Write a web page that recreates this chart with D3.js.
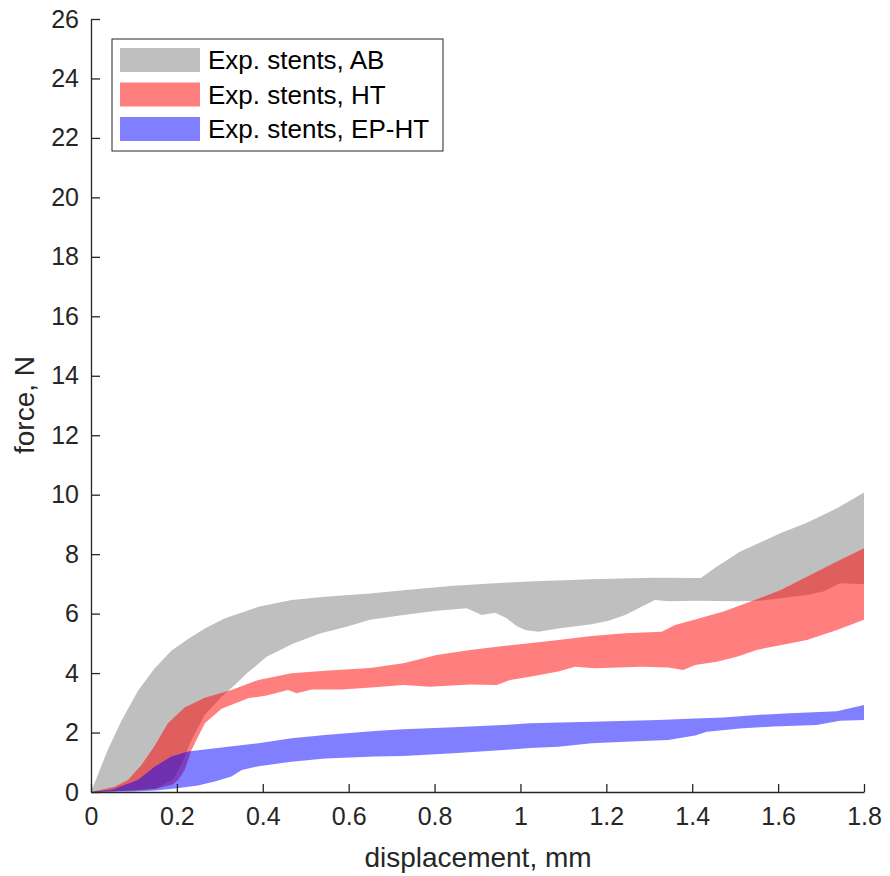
<!DOCTYPE html>
<html>
<head>
<meta charset="utf-8">
<script src="https://cdn.jsdelivr.net/npm/d3@7"></script>
<style>
  body { margin: 0; background: #fff; }
  svg { font-family: "Liberation Sans", Arial, sans-serif; }
</style>
</head>
<body>
<svg width="890" height="876"></svg>
<script>
// band edges (displacement in mm, force in N)
const abUpperX = [0, 0.04, 0.071, 0.109, 0.148, 0.187, 0.226, 0.265, 0.312, 0.39, 0.467, 0.545, 0.65, 0.727, 0.844, 0.96, 1.02, 1.166, 1.306, 1.42, 1.457, 1.511, 1.605, 1.667, 1.737, 1.8];
const abUpperF = [0, 1.45, 2.4, 3.4, 4.15, 4.75, 5.15, 5.5, 5.84, 6.23, 6.46, 6.57, 6.68, 6.79, 6.94, 7.04, 7.08, 7.16, 7.21, 7.2, 7.58, 8.08, 8.7, 9.06, 9.54, 10.07];
const abLowerX = [0, 0.1, 0.15, 0.19, 0.21, 0.234, 0.265, 0.304, 0.335, 0.363, 0.409, 0.47, 0.533, 0.595, 0.65, 0.727, 0.805, 0.875, 0.91, 0.941, 0.968, 0.991, 1.011, 1.042, 1.088, 1.166, 1.205, 1.244, 1.282, 1.313, 1.344, 1.407, 1.504, 1.558, 1.667, 1.705, 1.744, 1.8];
const abLowerF = [0, 0.05, 0.12, 0.4, 0.9, 1.75, 2.6, 3.2, 3.6, 3.99, 4.55, 4.99, 5.33, 5.56, 5.79, 5.95, 6.1, 6.18, 5.95, 6.03, 5.84, 5.58, 5.45, 5.39, 5.5, 5.64, 5.76, 5.95, 6.23, 6.46, 6.42, 6.43, 6.42, 6.43, 6.63, 6.74, 7.02, 6.99];

const htUpperX = [0, 0.055, 0.086, 0.117, 0.148, 0.179, 0.218, 0.265, 0.327, 0.39, 0.467, 0.545, 0.65, 0.727, 0.805, 0.883, 0.96, 1.02, 1.088, 1.166, 1.244, 1.329, 1.36, 1.407, 1.473, 1.55, 1.605, 1.667, 1.737, 1.8];
const htUpperF = [0, 0.18, 0.4, 0.9, 1.55, 2.31, 2.84, 3.17, 3.43, 3.77, 3.99, 4.08, 4.17, 4.33, 4.61, 4.78, 4.91, 5.0, 5.11, 5.25, 5.34, 5.39, 5.62, 5.8, 6.07, 6.48, 6.79, 7.24, 7.75, 8.2];
const htLowerX = [0, 0.1, 0.15, 0.19, 0.203, 0.218, 0.234, 0.265, 0.304, 0.366, 0.409, 0.459, 0.479, 0.514, 0.584, 0.661, 0.727, 0.789, 0.883, 0.945, 0.976, 1.022, 1.088, 1.127, 1.174, 1.282, 1.344, 1.379, 1.407, 1.457, 1.504, 1.55, 1.605, 1.667, 1.737, 1.8];
const htLowerF = [0, 0.05, 0.1, 0.25, 0.4, 0.74, 1.41, 2.31, 2.8, 3.15, 3.25, 3.43, 3.32, 3.45, 3.45, 3.52, 3.6, 3.54, 3.62, 3.6, 3.77, 3.88, 4.05, 4.21, 4.16, 4.21, 4.19, 4.1, 4.27, 4.38, 4.55, 4.78, 4.94, 5.11, 5.45, 5.79];

const epUpperX = [0, 0.05, 0.109, 0.148, 0.187, 0.226, 0.265, 0.319, 0.39, 0.467, 0.545, 0.661, 0.727, 0.844, 0.96, 1.022, 1.166, 1.321, 1.407, 1.473, 1.55, 1.628, 1.737, 1.8];
const epUpperF = [0, 0.08, 0.4, 0.85, 1.19, 1.36, 1.43, 1.52, 1.64, 1.81, 1.92, 2.05, 2.11, 2.18, 2.25, 2.31, 2.36, 2.42, 2.47, 2.51, 2.59, 2.65, 2.72, 2.93];
const epLowerX = [0, 0.1, 0.15, 0.195, 0.249, 0.288, 0.327, 0.351, 0.39, 0.467, 0.545, 0.661, 0.727, 0.844, 0.96, 1.022, 1.088, 1.166, 1.244, 1.344, 1.407, 1.434, 1.511, 1.589, 1.69, 1.744, 1.8];
const epLowerF = [0, 0.02, 0.05, 0.12, 0.22, 0.35, 0.52, 0.74, 0.87, 1.02, 1.13, 1.19, 1.21, 1.3, 1.41, 1.48, 1.52, 1.64, 1.69, 1.75, 1.9, 2.03, 2.14, 2.2, 2.25, 2.4, 2.42];

const seriesNames = ['Exp. stents, AB', 'Exp. stents, HT', 'Exp. stents, EP-HT'];
const seriesColors = ['#808080', '#ff0000', '#0000ff'];
const xTicks = [0, 0.2, 0.4, 0.6, 0.8, 1, 1.2, 1.4, 1.6, 1.8];
const yTicks = d3.range(0, 27, 2);

const bands = [
  { ux: abUpperX, uf: abUpperF, lx: abLowerX, lf: abLowerF },
  { ux: htUpperX, uf: htUpperF, lx: htLowerX, lf: htLowerF },
  { ux: epUpperX, uf: epUpperF, lx: epLowerX, lf: epLowerF },
];

const svg = d3.select('svg');
const axisColor = '#262626';
const tickFont = 25;

const x = d3.scaleLinear().domain([0, 1.8]).range([91, 864]);
const y = d3.scaleLinear().domain([0, 26]).range([792, 19]);

const line = d3.line().x(d => x(d[0])).y(d => y(d[1]));

bands.forEach((b, i) => {
  const upper = b.ux.map((v, k) => [v, b.uf[k]]);
  const lower = b.lx.map((v, k) => [v, b.lf[k]]).reverse();
  svg.append('path')
    .attr('d', line(upper.concat(lower)) + 'Z')
    .style('fill', seriesColors[i])
    .style('fill-opacity', 0.5)
    .style('stroke', 'none');
});

// axes, matlab style: ticks inward
const xAxis = svg.append('g')
  .attr('transform', `translate(0,${y(0)})`)
  .call(d3.axisBottom(x).tickValues(xTicks).tickSizeInner(-8).tickSizeOuter(0).tickPadding(15).tickFormat(d3.format('')));
const yAxis = svg.append('g')
  .attr('transform', `translate(${x(0)},0)`)
  .call(d3.axisLeft(y).tickValues(yTicks).tickSizeInner(-9).tickSizeOuter(0).tickPadding(12));

[xAxis, yAxis].forEach(g => {
  g.select('.domain').style('stroke', axisColor).style('stroke-width', 1.3);
  g.selectAll('.tick line').style('stroke', axisColor).style('stroke-width', 1.3);
  g.selectAll('.tick text').style('fill', axisColor).style('font-size', tickFont + 'px').style('font-family', '"Liberation Sans", Arial, sans-serif');
});

svg.append('text')
  .attr('x', 478)
  .attr('y', 867)
  .attr('text-anchor', 'middle')
  .style('font-size', '28px')
  .style('fill', axisColor)
  .text('displacement, mm');

svg.append('text')
  .attr('transform', 'translate(34,405) rotate(-90)')
  .attr('text-anchor', 'middle')
  .style('font-size', '28px')
  .style('fill', axisColor)
  .text('force, N');

// legend
const legend = svg.append('g');
legend.append('rect')
  .attr('x', 112).attr('y', 39)
  .attr('width', 331).attr('height', 112)
  .style('fill', '#fff')
  .style('stroke', axisColor)
  .style('stroke-width', 1);

seriesNames.forEach((name, i) => {
  const top = 48 + i * 34.5;
  legend.append('rect')
    .attr('x', 120).attr('y', top)
    .attr('width', 80).attr('height', 24)
    .style('fill', seriesColors[i])
    .style('fill-opacity', 0.5);
  legend.append('text')
    .attr('x', 208).attr('y', top + 21)
    .style('font-size', '26px')
    .style('fill', '#000')
    .text(name);
});
</script>
</body>
</html>
